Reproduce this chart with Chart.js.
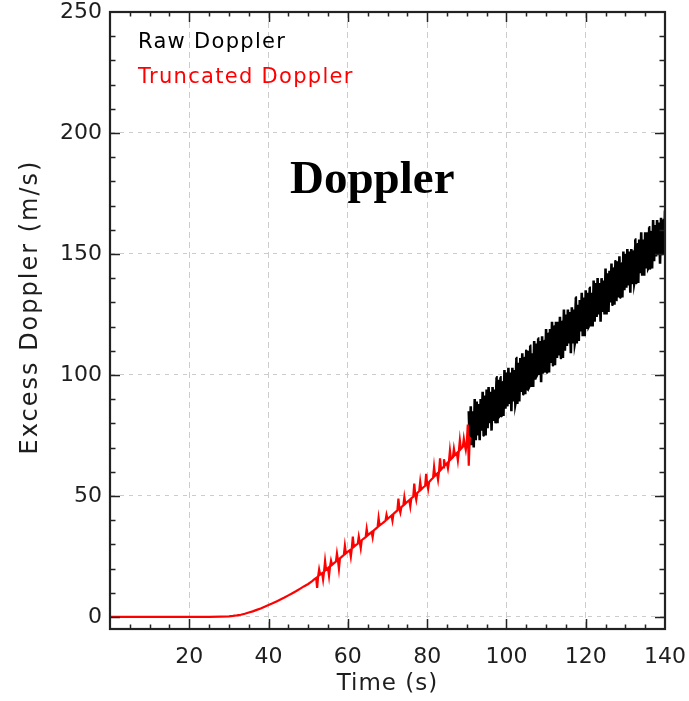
<!DOCTYPE html>
<html>
<head>
<meta charset="utf-8">
<script src="https://cdn.jsdelivr.net/npm/chart.js@4.4.1/dist/chart.umd.min.js"></script>
<style>
  html, body { margin: 0; padding: 0; background: #ffffff; }
  #wrap { width: 689px; height: 701px; position: relative; }
</style>
</head>
<body>
<div id="wrap"><canvas id="c" width="689" height="701"></canvas></div>
<script>
// ---------------- data ----------------
const xTickValues = [0, 20, 40, 60, 80, 100, 120, 140];
const yTickValues = [0, 50, 100, 150, 200, 250];
const seriesNames = ['Raw Doppler', 'Truncated Doppler'];
const annotationText = 'Doppler';
const xTitle = 'Time (s)';
const yTitle = 'Excess Doppler (m/s)';

// Truncated Doppler (red)
const redTime = [
  0, 5, 10, 15, 20, 25, 28, 30,
  31, 32, 33, 34, 35, 36, 37, 38, 39, 40,
  41, 42, 43, 44, 45, 46, 47, 48, 49, 50,
  51, 51.5, 52, 52.25, 52.5, 52.75, 53, 53.5, 53.75,
  54, 54.25, 54.5, 55, 55.25, 55.5, 55.75,
  56, 56.5, 57, 57.25, 57.5, 57.75,
  58, 58.5, 59, 59.25, 59.5,
  60, 60.5, 60.75, 61, 61.25, 61.5,
  62, 62.5, 62.75, 63, 63.25, 63.5,
  64, 64.5, 64.75, 65, 65.5,
  66, 66.25, 66.5, 67, 67.5, 67.75,
  68, 68.5, 69, 69.5, 69.75,
  70, 70.5, 71, 71.25, 71.5,
  72, 72.5, 72.75, 73, 73.25, 73.5,
  74, 74.25, 74.5, 75, 75.5, 75.75,
  76, 76.5, 76.75, 77, 77.25, 77.5,
  78, 78.25, 78.5, 79, 79.5, 79.75,
  80, 80.25, 80.5, 81, 81.5, 81.75,
  82, 82.5, 82.75, 83, 83.25, 83.5,
  84, 84.25, 84.5, 85, 85.25, 85.5, 85.75,
  86, 86.5, 86.75, 87, 87.5, 87.75,
  88, 88.25, 88.5, 89, 89.25, 89.5, 89.75,
  90, 90.25, 90.5, 90.75, 91
];
const redValue = [
  0, 0, 0, 0, 0, 0.05, 0.15, 0.25,
  0.4, 0.6, 0.9, 1.3, 1.8, 2.3, 2.9, 3.5, 4.2, 4.9,
  5.6, 6.4, 7.2, 8.0, 8.9, 9.8, 10.7, 11.7, 12.7, 13.6,
  14.8, 15.5, 16.1, 12.0, 16.8, 19.6, 17.5, 18.1, 15.4,
  18.8, 23.1, 19.5, 20.2, 17.0, 20.8, 23.2,
  21.5, 22.2, 22.9, 26.2, 23.5, 19.9,
  24.2, 24.9, 25.6, 29.4, 26.3,
  27.0, 27.6, 24.9, 28.3, 33.2, 29.0,
  29.7, 30.3, 33.2, 31.0, 28.4, 31.7,
  32.4, 33.0, 36.4, 33.7, 34.4,
  35.1, 32.9, 35.7, 36.4, 37.1, 40.9,
  37.8, 38.4, 39.1, 39.8, 42.2,
  40.5, 41.2, 41.9, 39.8, 42.6,
  43.3, 44.0, 48.9, 44.7, 43.1, 45.4,
  46.1, 49.5, 46.8, 47.6, 48.3, 45.7,
  49.0, 49.7, 55.1, 50.5, 48.4, 51.2,
  52.0, 55.9, 52.7, 53.5, 54.2, 59.1,
  55.0, 52.9, 55.8, 56.7, 57.5, 62.0,
  58.4, 59.2, 56.7, 60.1, 65.5, 60.9,
  61.8, 65.2, 62.6, 63.5, 61.4, 64.3, 68.8,
  65.2, 66.0, 69.5, 66.9, 67.7, 64.7,
  68.6, 73.0, 69.4, 70.3, 73.7, 71.1, 69.0,
  72.0, 79.5, 62.5, 74.0, 73.5
];

// Raw Doppler (black, noisy band after the truncation point)
const rawTime = [
  90.5, 90.75, 91, 91.25, 91.5, 91.75, 92, 92.25, 92.5, 92.75,
  93, 93.25, 93.5, 93.75, 94, 94.25, 94.5, 94.75, 95, 95.25,
  95.5, 95.75, 96, 96.25, 96.5, 96.75, 97, 97.25, 97.5, 97.75,
  98, 98.25, 98.5, 98.75, 99, 99.25, 99.5, 99.75, 100, 100.25,
  100.5, 100.75, 101, 101.25, 101.5, 101.75, 102, 102.25, 102.5, 102.75,
  103, 103.25, 103.5, 103.75, 104, 104.25, 104.5, 104.75, 105, 105.25,
  105.5, 105.75, 106, 106.25, 106.5, 106.75, 107, 107.25, 107.5, 107.75,
  108, 108.25, 108.5, 108.75, 109, 109.25, 109.5, 109.75, 110, 110.25,
  110.5, 110.75, 111, 111.25, 111.5, 111.75, 112, 112.25, 112.5, 112.75,
  113, 113.25, 113.5, 113.75, 114, 114.25, 114.5, 114.75, 115, 115.25,
  115.5, 115.75, 116, 116.25, 116.5, 116.75, 117, 117.25, 117.5, 117.75,
  118, 118.25, 118.5, 118.75, 119, 119.25, 119.5, 119.75, 120, 120.25,
  120.5, 120.75, 121, 121.25, 121.5, 121.75, 122, 122.25, 122.5, 122.75,
  123, 123.25, 123.5, 123.75, 124, 124.25, 124.5, 124.75, 125, 125.25,
  125.5, 125.75, 126, 126.25, 126.5, 126.75, 127, 127.25, 127.5, 127.75,
  128, 128.25, 128.5, 128.75, 129, 129.25, 129.5, 129.75, 130, 130.25,
  130.5, 130.75, 131, 131.25, 131.5, 131.75, 132, 132.25, 132.5, 132.75,
  133, 133.25, 133.5, 133.75, 134, 134.25, 134.5, 134.75, 135, 135.25,
  135.5, 135.75, 136, 136.25, 136.5, 136.75, 137, 137.25, 137.5, 137.75,
  138, 138.25, 138.5, 138.75, 139, 139.25, 139.5, 139.75, 140
];
const rawValue = [
  85, 71, 87, 71, 85, 70, 90, 73, 89, 75,
  88, 73, 90, 77, 93, 75, 91, 75, 94, 78,
  95, 80, 93, 77, 95, 81, 94, 80, 99, 80,
  98, 83, 99, 83, 97, 83, 102, 86, 101, 87,
  103, 88, 101, 85, 103, 89, 102, 88, 107, 88,
  105, 89, 107, 93, 109, 92, 107, 92, 110, 94,
  110, 95, 112, 95, 109, 95, 114, 98, 113, 100,
  115, 100, 114, 97, 116, 101, 114, 101, 119, 101,
  117, 101, 119, 105, 122, 104, 120, 104, 122, 107,
  122, 108, 124, 107, 122, 107, 127, 110, 125, 112,
  127, 113, 126, 109, 128, 113, 127, 113, 132, 113,
  129, 114, 131, 118, 134, 116, 132, 116, 135, 119,
  134, 120, 136, 120, 134, 120, 139, 122, 138, 124,
  140, 125, 138, 122, 140, 126, 139, 125, 144, 125,
  142, 126, 143, 130, 146, 129, 144, 129, 147, 131,
  147, 132, 149, 132, 146, 132, 151, 135, 150, 136,
  152, 137, 151, 134, 152, 138, 151, 138, 156, 138,
  154, 138, 156, 142, 159, 141, 156, 141, 159, 144,
  159, 144, 161, 144, 159, 144, 164, 147, 162, 149,
  164, 150, 163, 146, 165, 150, 164, 150, 168
];

// ---------------- styling / layout ----------------
const AXIS_COLOR = '#222222';
const GRID_COLOR = '#cccccc';
const TEXT_COLOR = '#1e1e1e';
const TICK_FONT = { family: 'DejaVu Sans', size: 22, lineHeight: 1 };
const transparent = 'rgba(0,0,0,0)';

function zeroPadding(s) {
  s.paddingLeft = 0; s.paddingRight = 0; s.paddingTop = 0; s.paddingBottom = 0;
}

const framePlugin = {
  id: 'framePlugin',
  afterDatasetsDraw(chart) {
    const ctx = chart.ctx, a = chart.chartArea;
    const xs = chart.scales.x, ys = chart.scales.y;
    ctx.save();
    ctx.strokeStyle = AXIS_COLOR;
    ctx.lineWidth = 1.5;
    ctx.beginPath();
    for (let v = 5; v < xs.max; v += 5) {
      const p = Math.round(xs.getPixelForValue(v)) + 0.5;
      const L = (v % 20 === 0) ? 10 : 4.5;
      ctx.moveTo(p, a.bottom); ctx.lineTo(p, a.bottom - L);
      ctx.moveTo(p, a.top); ctx.lineTo(p, a.top + L);
    }
    for (let v = 0; v < ys.max; v += 10) {
      const p = Math.round(ys.getPixelForValue(v)) + 0.5;
      const L = (v % 50 === 0) ? 10 : 5.5;
      ctx.moveTo(a.left, p); ctx.lineTo(a.left + L, p);
      ctx.moveTo(a.right, p); ctx.lineTo(a.right - L, p);
    }
    ctx.stroke();
    ctx.lineWidth = 2.2;
    ctx.strokeRect(a.left, a.top, a.right - a.left, a.bottom - a.top);
    ctx.restore();
  },
  afterDraw(chart) {
    const ctx = chart.ctx, a = chart.chartArea;
    ctx.save();
    ctx.textBaseline = 'alphabetic';
    ctx.textAlign = 'left';
    // legend (text only)
    if ('letterSpacing' in ctx) ctx.letterSpacing = '1.3px';
    ctx.font = '21px "DejaVu Sans"';
    ctx.fillStyle = '#000000';
    ctx.fillText(seriesNames[0], 138, 48);
    ctx.fillStyle = '#ff0000';
    ctx.fillText(seriesNames[1], 138, 83);
    // axis titles
    ctx.fillStyle = TEXT_COLOR;
    ctx.textAlign = 'center';
    ctx.textBaseline = 'middle';
    if ('letterSpacing' in ctx) ctx.letterSpacing = '1px';
    ctx.font = '23px "DejaVu Sans"';
    ctx.fillText(xTitle, (a.left + a.right) / 2, 684);
    ctx.save();
    ctx.translate(31, 307);
    ctx.rotate(-Math.PI / 2);
    if ('letterSpacing' in ctx) ctx.letterSpacing = '2px';
    ctx.font = '24px "DejaVu Sans"';
    ctx.fillText(yTitle, 0, 0);
    ctx.restore();
    // annotation
    if ('letterSpacing' in ctx) ctx.letterSpacing = '0px';
    ctx.font = 'bold 47px "Liberation Serif"';
    ctx.fillStyle = '#000000';
    ctx.textAlign = 'left';
    ctx.textBaseline = 'alphabetic';
    ctx.fillText(annotationText, 290, 193);
    ctx.restore();
  }
};

new Chart(document.getElementById('c'), {
  type: 'line',
  data: {
    datasets: [
      {
        label: seriesNames[1],
        data: redTime.map((t, i) => ({ x: t, y: redValue[i] })),
        borderColor: '#ff0000',
        borderWidth: 2.2,
        pointRadius: 0,
        tension: 0,
        fill: false,
        order: 0
      },
      {
        label: seriesNames[0],
        data: rawTime.map((t, i) => ({ x: t, y: rawValue[i] })),
        borderColor: '#000000',
        borderWidth: 2.6,
        pointRadius: 0,
        tension: 0.0001,
        cubicInterpolationMode: 'default',
        fill: false,
        order: 1
      }
    ]
  },
  options: {
    responsive: false,
    animation: false,
    devicePixelRatio: 1,
    layout: { padding: { top: 12, right: 24, left: 0, bottom: 0 } },
    plugins: { legend: { display: false }, tooltip: { enabled: false } },
    scales: {
      x: {
        type: 'linear',
        min: xTickValues[0],
        max: xTickValues[xTickValues.length - 1],
        afterFit(s) { s.height = 72; zeroPadding(s); },
        afterBuildTicks(s) { s.ticks = xTickValues.map(v => ({ value: v })); },
        ticks: {
          font: TICK_FONT,
          color: TEXT_COLOR,
          padding: 17,
          maxRotation: 0,
          autoSkip: false,
          callback: (v) => (v === 0 ? '' : String(v))
        },
        grid: {
          drawTicks: false,
          lineWidth: 1,
          color: (c) => (c.tick && (c.tick.value === xTickValues[0] || c.tick.value === xTickValues[xTickValues.length - 1])) ? transparent : GRID_COLOR
        },
        border: { display: true, color: AXIS_COLOR, width: 2, dash: [6, 4] }
      },
      y: {
        type: 'linear',
        min: -5,
        max: 250,
        afterFit(s) { s.width = 110; zeroPadding(s); },
        afterBuildTicks(s) { s.ticks = yTickValues.map(v => ({ value: v })); },
        ticks: {
          font: TICK_FONT,
          color: TEXT_COLOR,
          padding: 8
        },
        grid: {
          drawTicks: false,
          lineWidth: 1,
          color: (c) => (c.tick && c.tick.value === 250) ? transparent : GRID_COLOR
        },
        border: { display: true, color: AXIS_COLOR, width: 2, dash: [4, 5] }
      }
    }
  },
  plugins: [framePlugin]
});
</script>
</body>
</html>
